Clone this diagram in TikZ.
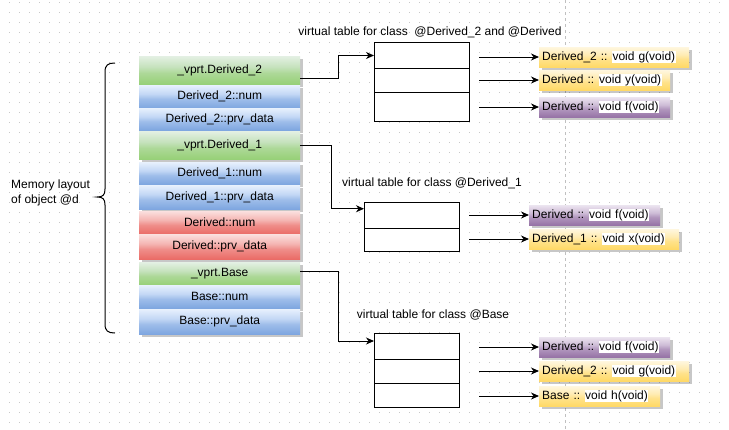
\documentclass[tikz,border=0pt]{standalone}
\usepackage{fontspec}
\setmainfont{Liberation Sans}
\usetikzlibrary{arrows.meta,shadows,calc}
\definecolor{gF}{HTML}{D5E8D4}\definecolor{gG}{HTML}{97D077}
\definecolor{bF}{HTML}{DAE8FC}\definecolor{bG}{HTML}{7EA6E0}
\definecolor{rF}{HTML}{F8CECC}\definecolor{rG}{HTML}{EA6B66}
\definecolor{yF}{HTML}{FFF2CC}\definecolor{yG}{HTML}{FFD966}
\definecolor{pF}{HTML}{E1D5E7}\definecolor{pG}{HTML}{9673A6}
\definecolor{gridc}{HTML}{C8C8C8}
\definecolor{pagec}{HTML}{C0C0C0}
\newcommand\mkglass[1]{%
  \colorlet{#1M}{#1F!35!#1G}\colorlet{#1N}{#1F!75!#1G}\colorlet{#1T}{#1F!65!white}%
  \pgfdeclareverticalshading{#1glass}{100bp}{color(0bp)=(#1G); color(25bp)=(#1G); color(45bp)=(#1M); color(56bp)=(#1N); color(75bp)=(#1T); color(100bp)=(#1T)}}
\mkglass{g}\mkglass{b}\mkglass{r}\mkglass{y}\mkglass{p}
\setlength\fboxsep{0.5pt}
\newcommand\wb[1]{\hspace{-1.5pt}\colorbox{white}{#1}}
\tikzset{
  every node/.style={font=\fontsize{12}{15}\selectfont},
  sh/.style={drop shadow={shadow xshift=2.5pt, shadow yshift=-2.5pt, opacity=0.22, fill=black}},
  cell/.style={rectangle, anchor=north west, minimum width=161pt, inner sep=0pt, sh, shade},
  gcell/.style={cell, shading=gglass},
  bcell/.style={cell, shading=bglass},
  rcell/.style={cell, shading=rglass},
  vrow/.style={rectangle, draw=black, line width=1pt, anchor=north west, inner sep=0pt, fill=white},
  funbox/.style={rectangle, anchor=north west, minimum height=20pt, inner xsep=3pt, inner ysep=0pt, align=left, sh, shade},
  ybox/.style={funbox, shading=yglass},
  pbox/.style={funbox, shading=pglass},
  conn/.style={draw=black, line width=1pt, -{Stealth[length=8pt,width=7pt,inset=2.5pt]}},
  lbl/.style={inner sep=0pt},
}
\begin{document}
\begin{tikzpicture}[x=1pt,y=-1pt]
\fill[white] (0,0) rectangle (729,429);
\useasboundingbox (0,0) rectangle (729,429);
% grid
\foreach \yy in {2.5,12.5,...,422.5}
  \draw[gridc, line width=1pt, dash pattern=on 1pt off 9pt] (9,\yy) -- (729,\yy);
\draw[pagec, line width=1pt, dash pattern=on 3pt off 3pt] (565,0) -- (565,429);

% memory layout cells
\node[gcell, minimum height=28pt] (A1)  at (139,56)  {\_vprt.Derived\_2};
\node[bcell, minimum height=23pt] (A2)  at (139,85)  {Derived\_2::num};
\node[bcell, minimum height=22pt] (A3)  at (139,108) {Derived\_2::prv\_data};
\node[gcell, minimum height=28pt] (A4)  at (139,131) {\_vprt.Derived\_1};
\node[bcell, minimum height=22pt] (A5)  at (139,162) {Derived\_1::num};
\node[bcell, minimum height=24pt] (A6)  at (139,185) {Derived\_1::prv\_data};
\node[rcell, minimum height=23pt] (A7)  at (139,211) {Derived::num};
\node[rcell, minimum height=25pt] (A8)  at (139,234) {Derived::prv\_data};
\node[gcell, minimum height=23pt] (A9)  at (139,262) {\_vprt.Base};
\node[bcell, minimum height=23pt] (A10) at (139,285) {Base::num};
\node[bcell, minimum height=25pt] (A11) at (139,309) {Base::prv\_data};

% brace and label
\draw[black, line width=1pt] (115,63) .. controls (108,63) and (105,65) .. (105,72) -- (105,189)
  .. controls (105,195) and (103,197) .. (97,197) .. controls (103,197) and (105,199) .. (105,205)
  -- (105,324) .. controls (105,331) and (108,333) .. (115,333);
\node[lbl, align=left, anchor=west] (mem) at (11,192.5) {Memory layout\\of object @d};

% vtable labels
\node[lbl] (L1) at (430,32)  {virtual table for class~ @Derived\_2 and @Derived};
\node[lbl] (L2) at (432,183) {virtual table for class @Derived\_1};
\node[lbl] (L3) at (433,315) {virtual table for class @Base};

% vtables
\node[vrow, minimum width=95pt, minimum height=26pt] (T1a) at (374,42) {};
\node[vrow, minimum width=95pt, minimum height=24pt] (T1b) at (374,68) {};
\node[vrow, minimum width=95pt, minimum height=29pt] (T1c) at (374,92) {};
\node[vrow, minimum width=95pt, minimum height=25.5pt] (T2a) at (364,202) {};
\node[vrow, minimum width=95pt, minimum height=23.5pt] (T2b) at (364,227.5) {};
\node[vrow, minimum width=85pt, minimum height=26pt] (T3a) at (374,333) {};
\node[vrow, minimum width=85pt, minimum height=24pt] (T3b) at (374,359) {};
\node[vrow, minimum width=85pt, minimum height=24pt] (T3c) at (374,383) {};

% function boxes
\node[ybox, text width=144pt] (F1a) at (539,47)  {Derived\_2 :: \wb{void g(void)}};
\node[ybox, text width=125pt] (F1b) at (539,70)  {Derived :: \wb{void y(void)}};
\node[pbox, text width=125pt] (F1c) at (539,97)  {Derived :: \wb{void f(void)}};
\node[pbox, text width=125pt] (F2a) at (529,205) {Derived :: \wb{void f(void)}};
\node[ybox, text width=144pt] (F2b) at (529,229) {Derived\_1 :: \wb{void x(void)}};
\node[pbox, text width=125pt] (F3a) at (539,337) {Derived :: \wb{void f(void)}};
\node[ybox, text width=144pt] (F3b) at (539,361) {Derived\_2 :: \wb{void g(void)}};
\node[ybox, text width=115pt] (F3c) at (539,386) {Base :: \wb{void h(void)}};

% memory -> vtables
\draw[conn] ([yshift=6pt]A1.south east) -- ++(38,0) |- (T1a.west);
\draw[conn] (A4.east) -- ++(31,0) |- ([yshift=6.5pt]T2a.west);
\draw[conn] ([yshift=2pt]A9.east) -- ++(38,0) |- ([yshift=5.5pt]T3a.west);

% vtable -> functions
\coordinate (s1a) at (479,57);
\coordinate (s1b) at (479,80);
\coordinate (s1c) at (479,107);
\coordinate (s2a) at (469,215);
\coordinate (s2b) at (469,239);
\coordinate (s3a) at (479,347);
\coordinate (s3b) at (479,371);
\coordinate (s3c) at (479,396);
\draw[conn] (s1a) -- (s1a -| F1a.west);
\draw[conn] (s1b) -- (s1b -| F1b.west);
\draw[conn] (s1c) -- (s1c -| F1c.west);
\draw[conn] (s2a) -- (s2a -| F2a.west);
\draw[conn] (s2b) -- (s2b -| F2b.west);
\draw[conn] (s3a) -- (s3a -| F3a.west);
\draw[conn] (s3b) -- (s3b -| F3b.west);
\draw[conn] (s3c) -- (s3c -| F3c.west);
\end{tikzpicture}
\end{document}
